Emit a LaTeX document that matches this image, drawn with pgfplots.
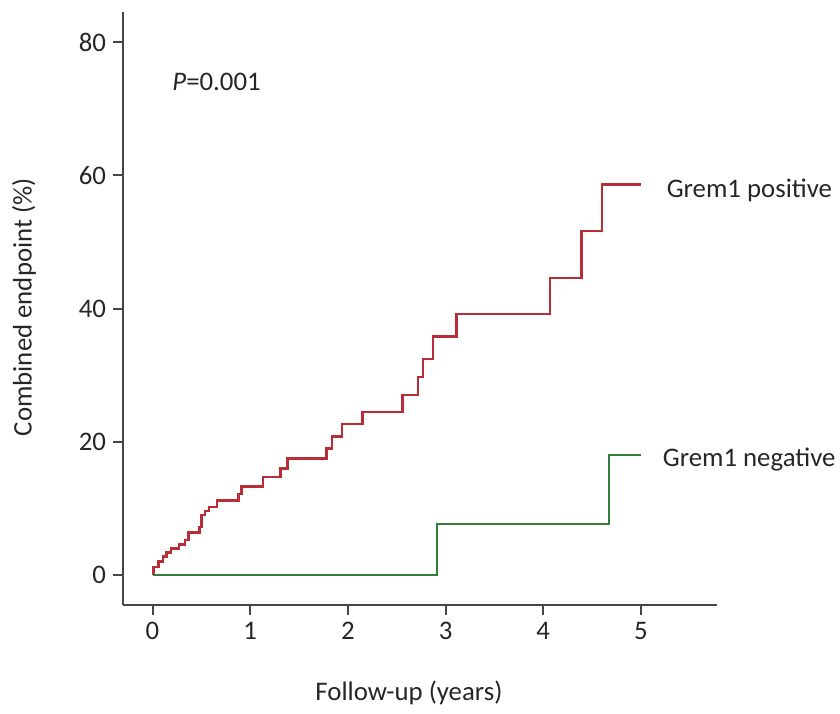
\documentclass[border=0pt]{standalone}
\usepackage{pgfplots}
\pgfplotsset{compat=1.18}
\usepackage{fontspec}
\setmainfont{Carlito}

\definecolor{posred}{RGB}{185,45,55}
\definecolor{neggreen}{RGB}{50,125,60}
\definecolor{spine}{RGB}{70,70,70}

\begin{document}
\begin{tikzpicture}[font=\fontsize{13.4}{16}\selectfont]
\begin{axis}[
    scale only axis,
    width=297pt, height=296.5pt,
    xmin=-0.302, xmax=5.778,
    ymin=-4.5, ymax=84.5,
    axis x line*=bottom,
    axis y line*=left,
    axis line style={-, spine, line width=1pt},
    xtick={0,1,2,3,4,5},
    ytick={0,20,40,60,80},
    tick align=outside,
    major tick length=5pt,
    tick style={spine, line width=1pt},
    /pgf/number format/assume math mode=true,
    ticklabel style={text=black!85},
    clip=false,
  ]
% Grem1 positive (cumulative %, step at each event)
\addplot[const plot, posred, line width=1.2pt] coordinates {
  (0,0) (0.01,1.2) (0.06,2.0) (0.11,2.8) (0.145,3.4) (0.19,4.0)
  (0.27,4.6) (0.33,5.25) (0.37,6.4) (0.48,7.25) (0.50,9.0) (0.54,9.6)
  (0.58,10.2) (0.66,11.2) (0.88,12.2) (0.91,13.3) (1.13,14.7) (1.31,16.0)
  (1.38,17.5) (1.78,19.0) (1.84,20.8) (1.94,22.7) (2.15,24.5) (2.56,27.0)
  (2.72,29.7) (2.77,32.4) (2.87,35.8) (3.11,39.2) (4.07,44.6) (4.39,51.6)
  (4.60,58.6) (5.00,58.6)
};
% Grem1 negative
\addplot[const plot, neggreen, line width=1.2pt] coordinates {
  (0,0) (2.91,7.7) (4.67,18.0) (5.00,18.0)
};
\node[anchor=west, inner sep=0pt, text=black!85] at (axis cs:0.2,74.0) {\textit{P}=0.001};
\node[anchor=west, inner sep=0pt, text=black!85] at (axis cs:5.26,57.8) {Grem1 positive};
\node[anchor=west, inner sep=0pt, text=black!85] at (axis cs:5.22,17.3) {Grem1 negative};
\node[inner sep=0pt, text=black!85, yshift=-44pt] at (axis cs:2.625,-4.5) {Follow-up (years)};
\node[inner sep=0pt, text=black!85, rotate=90, xshift=0pt, yshift=49.5pt] at (axis cs:-0.302,40.2) {Combined endpoint (\%)};
\end{axis}
\path[use as bounding box] (-61.5pt,-54pt) rectangle (358.5pt,302.5pt);
\end{tikzpicture}
\end{document}
